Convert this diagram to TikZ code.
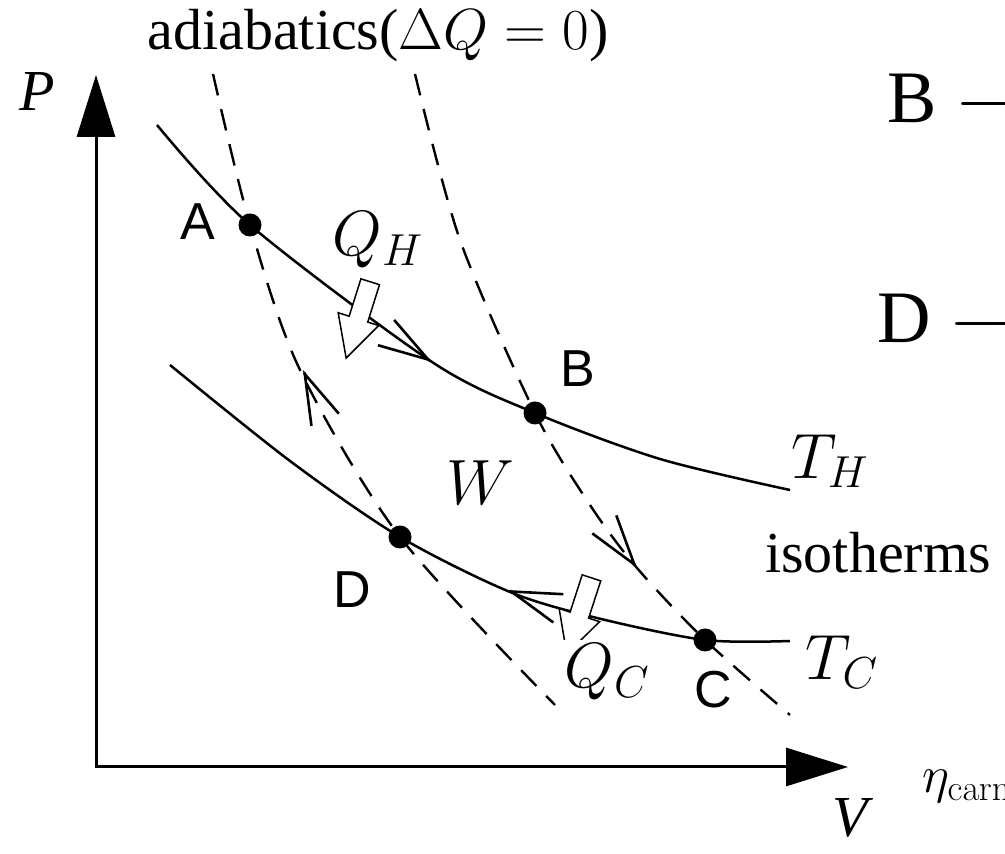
\RequirePackage{fix-cm}
\documentclass[tikz,border=0pt]{standalone}
\usepackage[no-math]{fontspec}
\setmainfont{Liberation Serif}
\setsansfont{Liberation Sans}
\usepackage{tikz}
\usetikzlibrary{arrows.meta,shapes.arrows}

\begin{document}
\begin{tikzpicture}[x=0.5pt, y=0.5pt,
  axis/.style={line width=1.5pt, line join=miter,
               {Triangle[length=31pt,width=19pt]}-{Triangle[length=31pt,width=19pt]}},
  iso/.style={line width=1.25pt},
  adia/.style={line width=1.2pt, dash pattern=on 11pt off 7pt},
  cyc/.style={-{Straight Barb[length=25pt,width=15pt]}, line width=1.3pt},
  dot/.style={circle, fill, minimum size=11.5pt, inner sep=0pt},
  heat/.style={single arrow, draw, fill=white, line width=0.75pt, inner sep=4.5pt,
               minimum height=40pt, minimum width=20.5pt,
               single arrow head extend=5.75pt, single arrow tip angle=55},
  mathlbl/.style={font=\fontsize{32}{38}\selectfont, inner sep=1pt},
  txtlbl/.style={font=\fontsize{29}{34}\selectfont, inner sep=1pt},
  ptlbl/.style={font=\sffamily\fontsize{26}{30}\selectfont, inner sep=1pt},
  eqlbl/.style={font=\fontsize{37}{44}\selectfont, inner sep=0pt}
]
  \useasboundingbox (0,0) rectangle (1005,854);
  \clip (0,0) rectangle (1005,854);

  % axes
  \coordinate (O) at (96,87);
  \coordinate (Ptip) at (96,779);
  \coordinate (Vtip) at (848,87);
  \draw[axis] (Ptip) -- (O) -- (Vtip);
  \node[txtlbl] (P) at (37,762) {\itshape P};
  \node[txtlbl] (V) at (850,36) {\itshape V};

  % corners of the cycle
  \node[dot] (A) at (250,629) {};
  \node[dot] (B) at (535,441) {};
  \node[dot] (C) at (705,214) {};
  \node[dot] (D) at (400,317) {};

  % isotherms
  \draw[iso] plot[smooth] coordinates {(157,729) (A.center) (432,492) (B.center) (660,395) (790,364)};
  \draw[iso] plot[smooth] coordinates {(170,489) (290,393) (D.center) (510,262) (597,236) (C.center) (790,213)};

  % adiabatics
  \draw[adia] plot[smooth] coordinates {(213,780) (A.center) (300,484) (D.center) (555,149)};
  \draw[adia] plot[smooth] coordinates {(415,780) (460,614) (B.center) (590,349) (637,286) (C.center) (790,139)};

  % direction of the cycle
  \coordinate (ab1) at (429.5,493.6);
  \coordinate (ab2) at (432,492);
  \coordinate (bc1) at (635.2,288.4);
  \coordinate (bc2) at (637,286);
  \coordinate (cd1) at (509.8,263);
  \coordinate (cd2) at (507,264);
  \coordinate (da1) at (304.2,481.3);
  \coordinate (da2) at (303,484);
  \draw[cyc] (ab1) -- (ab2);
  \draw[cyc] (bc1) -- (bc2);
  \draw[cyc] (cd1) -- (cd2);
  \draw[cyc] (da1) -- (da2);

  % heat flows
  \node[heat, rotate=252.5] (qharr) at (361,543) {};
  \node[heat, rotate=252] (qcarr) at (582,247) {};

  % labels
  \node[ptlbl] (la) at (198,632) {A};
  \node[ptlbl] (lb) at (578,485) {B};
  \node[ptlbl] (lc) at (713,164) {C};
  \node[ptlbl] (ld) at (352,264) {D};
  \node[mathlbl] (QH) at (378,614) {$Q_H$};
  \node[mathlbl] (W) at (480,371) {$W$};
  \node[mathlbl, fill=white, inner sep=2pt] (QC) at (607,182) {$Q_C$};
  \node[mathlbl] (TH) at (830,393) {$T_H$};
  \node[mathlbl] (TC) at (842,192) {$T_C$};
  \node[txtlbl, anchor=base] (isot) at (878,281) {isotherms};
  \node[txtlbl, anchor=base, fill=white, inner sep=3pt] (adiab) at (378,804) {adiabatics($\Delta Q=0$)};

  % cut off at the right edge
  \node[eqlbl, anchor=west] (bstep) at (887,756) {B $\longrightarrow$};
  \node[eqlbl, anchor=west] (dstep) at (877,536) {D $\longrightarrow$};
  \node[font=\fontsize{26}{31}\selectfont, inner sep=0pt, anchor=base west] (eta) at (922,61) {$\eta_{\mathrm{carnot}}$};
\end{tikzpicture}
\end{document}
